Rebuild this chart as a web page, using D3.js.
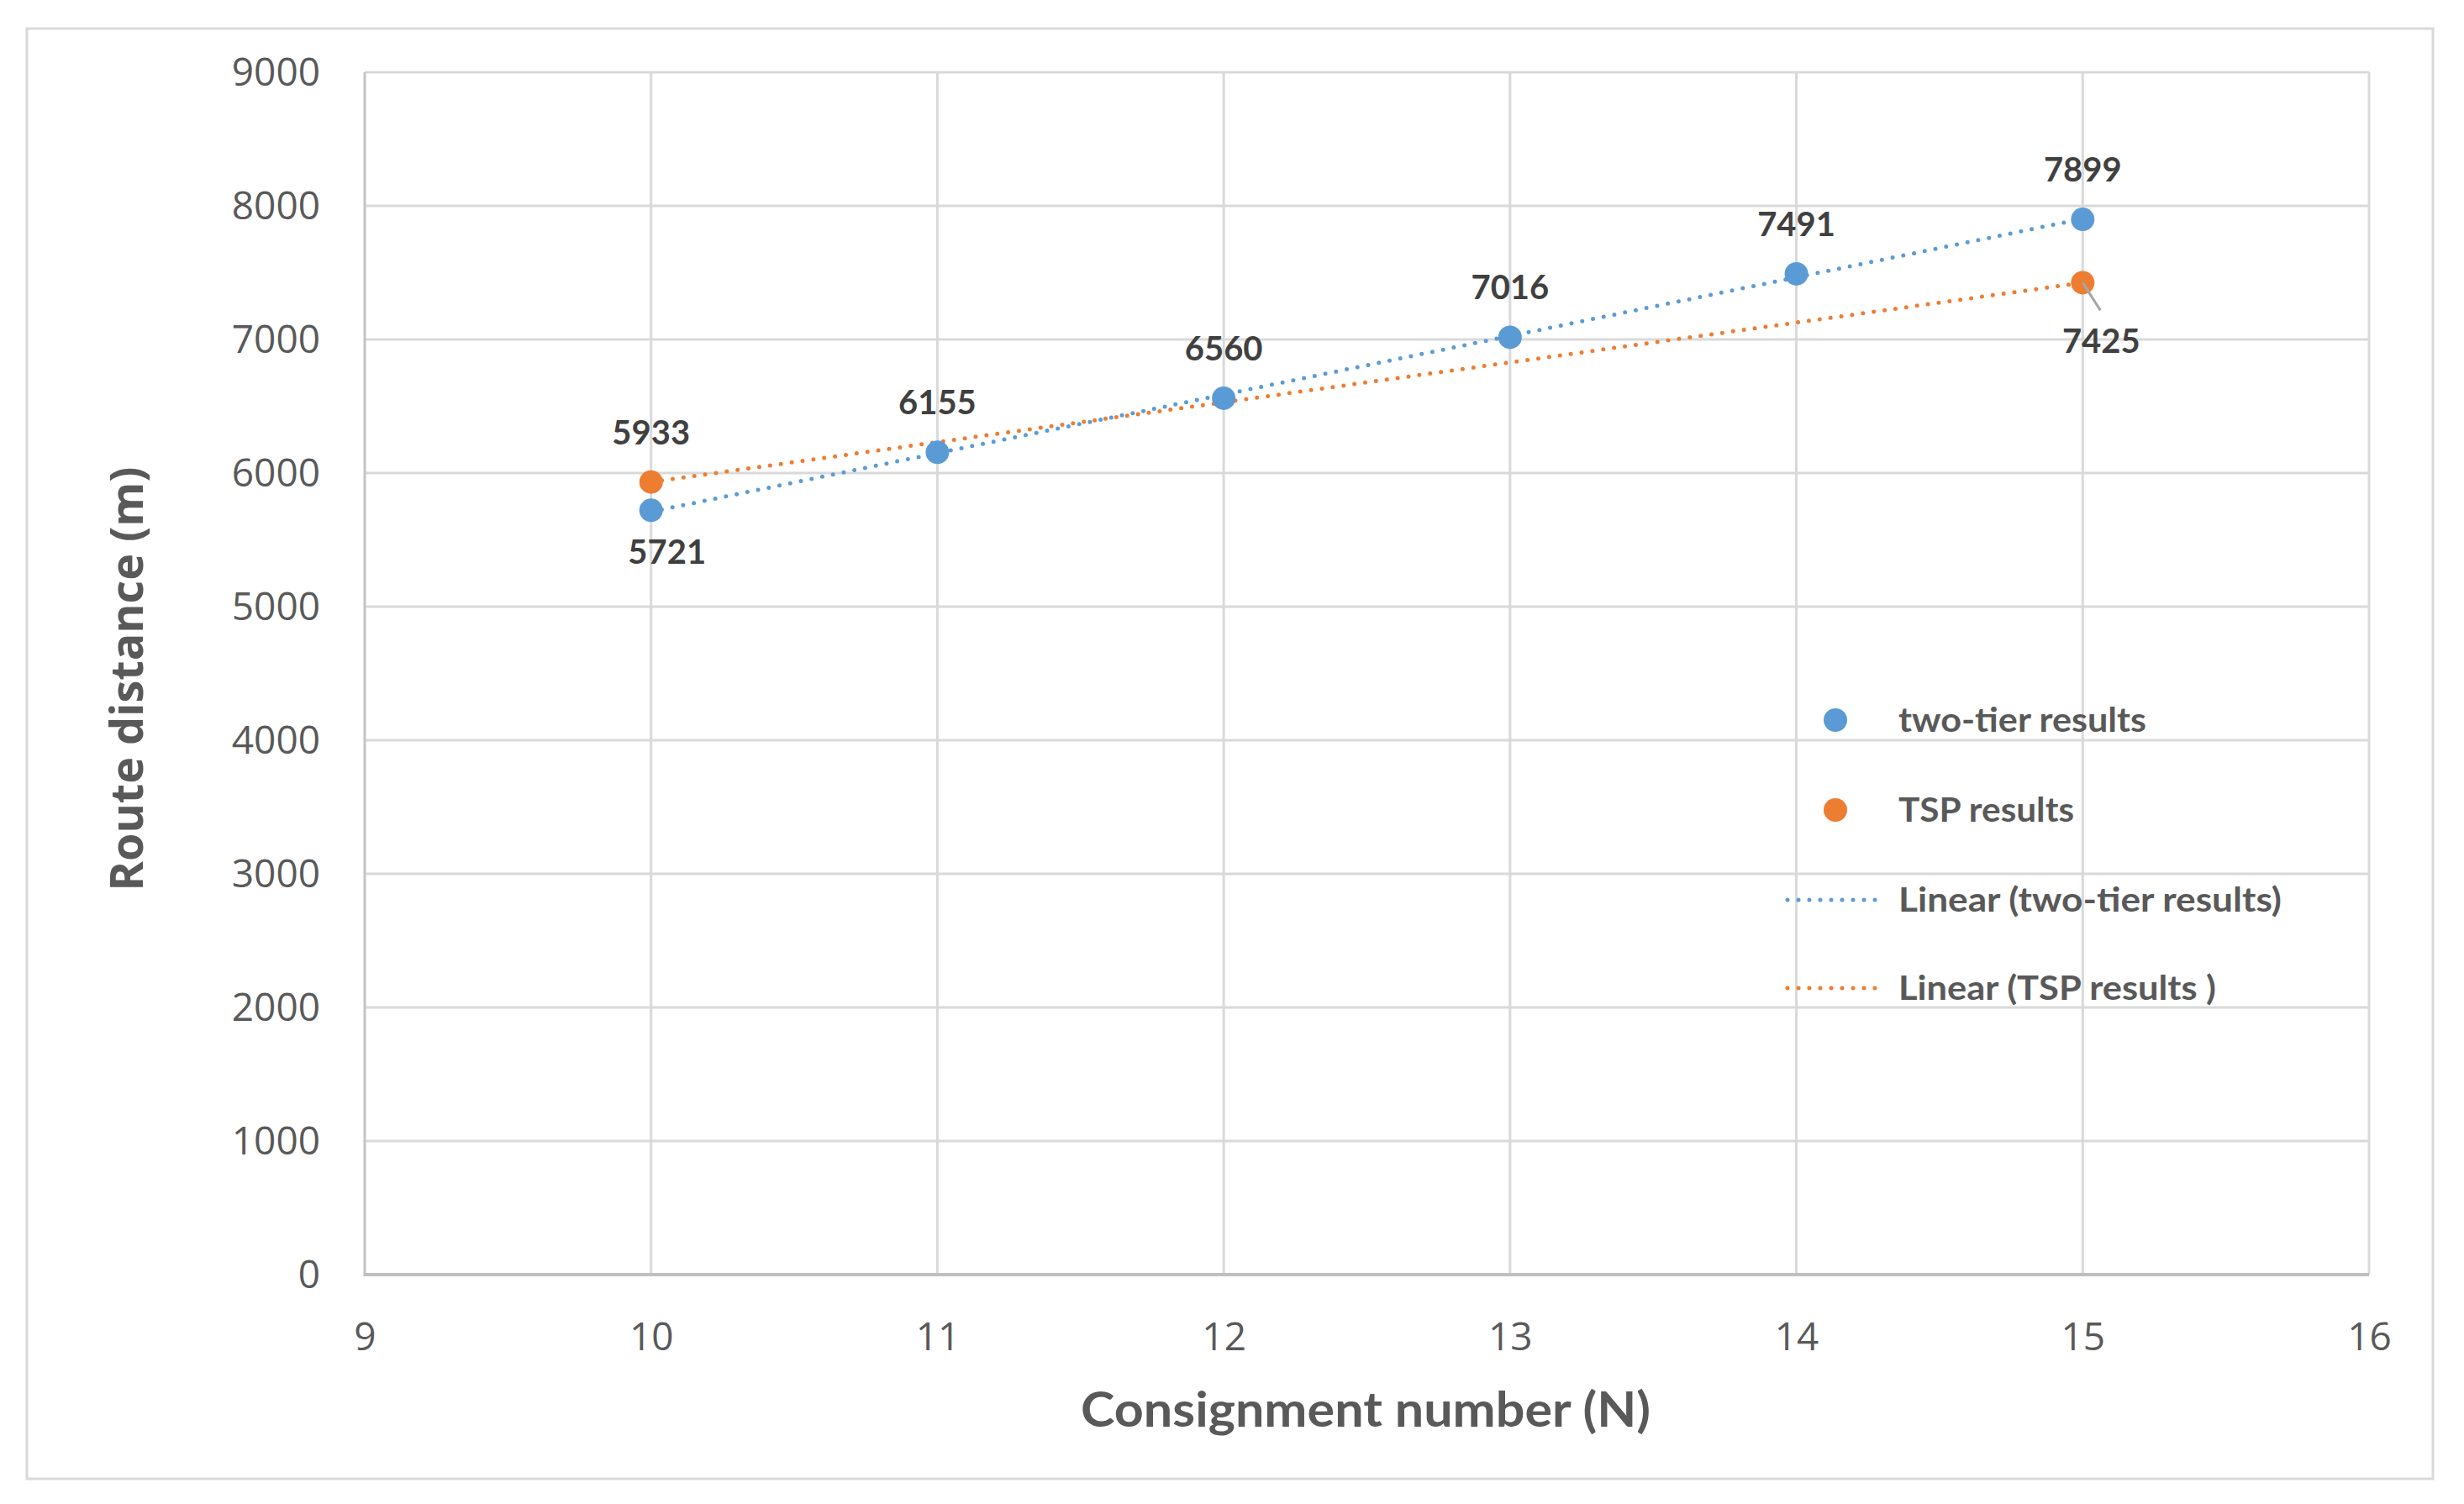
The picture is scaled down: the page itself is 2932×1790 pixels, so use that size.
<!DOCTYPE html>
<html>
<head>
<meta charset="utf-8">
<script src="https://cdn.jsdelivr.net/npm/d3@7"></script>
<style>
  html, body { margin: 0; padding: 0; background: #fff; }
  svg { display: block; }
</style>
</head>
<body>
<svg id="chart" width="2932" height="1790"></svg>
<script>
// data
var consignments = [10, 11, 12, 13, 14, 15];
var twoTier = [5721, 6155, 6560, 7016, 7491, 7899];
var tspN = [10, 15];
var tsp = [5933, 7425];
var xTicks = [9, 10, 11, 12, 13, 14, 15, 16];
var yTicks = [0, 1000, 2000, 3000, 4000, 5000, 6000, 7000, 8000, 9000];

var blue = "#5B9BD5", orange = "#ED7D31";
var svg = d3.select("#chart");

// outer frame
svg.append("rect")
  .attr("x", 32).attr("y", 34).attr("width", 2863).attr("height", 1726)
  .attr("fill", "#fff").attr("stroke", "#d9d9d9").attr("stroke-width", 3);

var x = d3.scaleLinear().domain([9, 16]).range([434, 2819]);
var y = d3.scaleLinear().domain([0, 9000]).range([1517, 86]);

// grid
var grid = svg.append("g");
grid.selectAll(".hg").data(yTicks.filter(function(d){ return d > 0; })).enter().append("line")
  .attr("x1", x(9)).attr("x2", x(16))
  .attr("y1", function(d){ return y(d); }).attr("y2", function(d){ return y(d); })
  .attr("stroke", "#d9d9d9").attr("stroke-width", 3);
grid.selectAll(".vg").data(xTicks.filter(function(d){ return d > 9; })).enter().append("line")
  .attr("y1", y(0)).attr("y2", y(9000))
  .attr("x1", function(d){ return x(d); }).attr("x2", function(d){ return x(d); })
  .attr("stroke", "#d9d9d9").attr("stroke-width", 3);

// axes lines
svg.append("line").attr("x1", x(9)).attr("x2", x(9)).attr("y1", y(0)).attr("y2", y(9000))
  .attr("stroke", "#c4c4c4").attr("stroke-width", 3);
svg.append("line").attr("x1", x(9) - 1.5).attr("x2", x(16)).attr("y1", y(0)).attr("y2", y(0))
  .attr("stroke", "#bfbfbf").attr("stroke-width", 4);

// tick labels via d3 axes
var fmt = d3.format("d");
var yAxis = svg.append("g").attr("transform", "translate(" + 381 + ",0)")
  .call(d3.axisLeft(y).tickValues(yTicks).tickFormat(fmt).tickSize(0).tickPadding(0));
var xAxis = svg.append("g").attr("transform", "translate(0," + 1560 + ")")
  .call(d3.axisBottom(x).tickValues(xTicks).tickFormat(fmt).tickSize(0).tickPadding(0));
[yAxis, xAxis].forEach(function(a){
  a.select(".domain").remove();
  a.selectAll("text").attr("font-family", "Open Sans").attr("font-size", 46).attr("fill", "#595959");
});
yAxis.selectAll("text").attr("dy", "0.34em");
xAxis.selectAll("text").attr("dy", "0").attr("y", 47);

// axis titles
function fitWidth(t, w) {
  t.attr("textLength", w).attr("lengthAdjust", "spacingAndGlyphs");
}
var xt = svg.append("text").attr("x", 1625).attr("y", 1698).attr("text-anchor", "middle")
  .attr("font-family", "Lato").attr("font-weight", "bold").attr("font-size", 58).attr("fill", "#595959")
  .text("Consignment number (N)");
fitWidth(xt, 678);
var yt = svg.append("text").attr("transform", "translate(170,808) rotate(-90)").attr("text-anchor", "middle")
  .attr("font-family", "Open Sans").attr("font-weight", "bold").attr("font-size", 53).attr("fill", "#595959")
  .text("Route distance (m)");
fitWidth(yt, 505);

// linear trend lines (least squares, like the spreadsheet trendline)
function linfit(xs, ys) {
  var mx = d3.mean(xs), my = d3.mean(ys);
  var num = d3.sum(xs, function(v, i){ return (v - mx) * (ys[i] - my); });
  var den = d3.sum(xs, function(v){ return (v - mx) * (v - mx); });
  var b = num / den;
  return function(v){ return my + b * (v - mx); };
}
var fitBlue = linfit(consignments, twoTier);
var fitOrange = linfit(tspN, tsp);
var line = d3.line().x(function(d){ return x(d[0]); }).y(function(d){ return y(d[1]); });
function trend(f, xs, color) {
  var ext = d3.extent(xs);
  svg.append("path").datum([[ext[0], f(ext[0])], [ext[1], f(ext[1])]])
    .attr("d", line).attr("fill", "none").attr("stroke", color)
    .attr("stroke-width", 5).attr("stroke-linecap", "round").attr("stroke-dasharray", "0 13");
}
trend(fitBlue, consignments, blue);
trend(fitOrange, tspN, orange);

// markers
svg.selectAll(".pb").data(consignments).enter().append("circle")
  .attr("cx", function(d){ return x(d); }).attr("cy", function(d, i){ return y(twoTier[i]); })
  .attr("r", 14).attr("fill", blue);
svg.selectAll(".po").data(tspN).enter().append("circle")
  .attr("cx", function(d){ return x(d); }).attr("cy", function(d, i){ return y(tsp[i]); })
  .attr("r", 14).attr("fill", orange);

// data labels
function label(n, v, dx, dy) {
  svg.append("text").attr("x", x(n) + dx).attr("y", y(v) + dy).attr("text-anchor", "middle")
    .attr("font-family", "Lato").attr("font-weight", "bold").attr("font-size", 40).attr("fill", "#404040")
    .text(v);
}
consignments.forEach(function(n, i){
  if (i === 0) label(n, twoTier[i], 19, 64);
  else label(n, twoTier[i], 0, -45);
});
label(tspN[0], tsp[0], 0, -45);
svg.append("line").attr("x1", x(tspN[1])).attr("y1", y(tsp[1]))
  .attr("x2", x(tspN[1]) + 21).attr("y2", y(tsp[1]) + 33)
  .attr("stroke", "#a6a6a6").attr("stroke-width", 3);
label(tspN[1], tsp[1], 22, 84);

// legend
var legendItems = ["two-tier results", "TSP results", "Linear (two-tier results)", "Linear (TSP results )"];
var legendWidths = [295, 209, 456, 378];
var legendY = [857, 964, 1071, 1176];
var lg = svg.append("g");
legendItems.forEach(function(name, i){
  if (i < 2) {
    lg.append("circle").attr("cx", 2184).attr("cy", legendY[i]).attr("r", 14).attr("fill", i === 0 ? blue : orange);
  } else {
    lg.append("line").attr("x1", 2127).attr("x2", 2237).attr("y1", legendY[i]).attr("y2", legendY[i])
      .attr("stroke", i === 2 ? blue : orange).attr("stroke-width", 5)
      .attr("stroke-linecap", "round").attr("stroke-dasharray", "0 13");
  }
  var t = lg.append("text").attr("x", 2259).attr("y", legendY[i] + 14)
    .attr("font-family", "Lato").attr("font-weight", "bold").attr("font-size", 40).attr("fill", "#595959")
    .text(name);
  fitWidth(t, legendWidths[i]);
});
</script>
</body>
</html>
